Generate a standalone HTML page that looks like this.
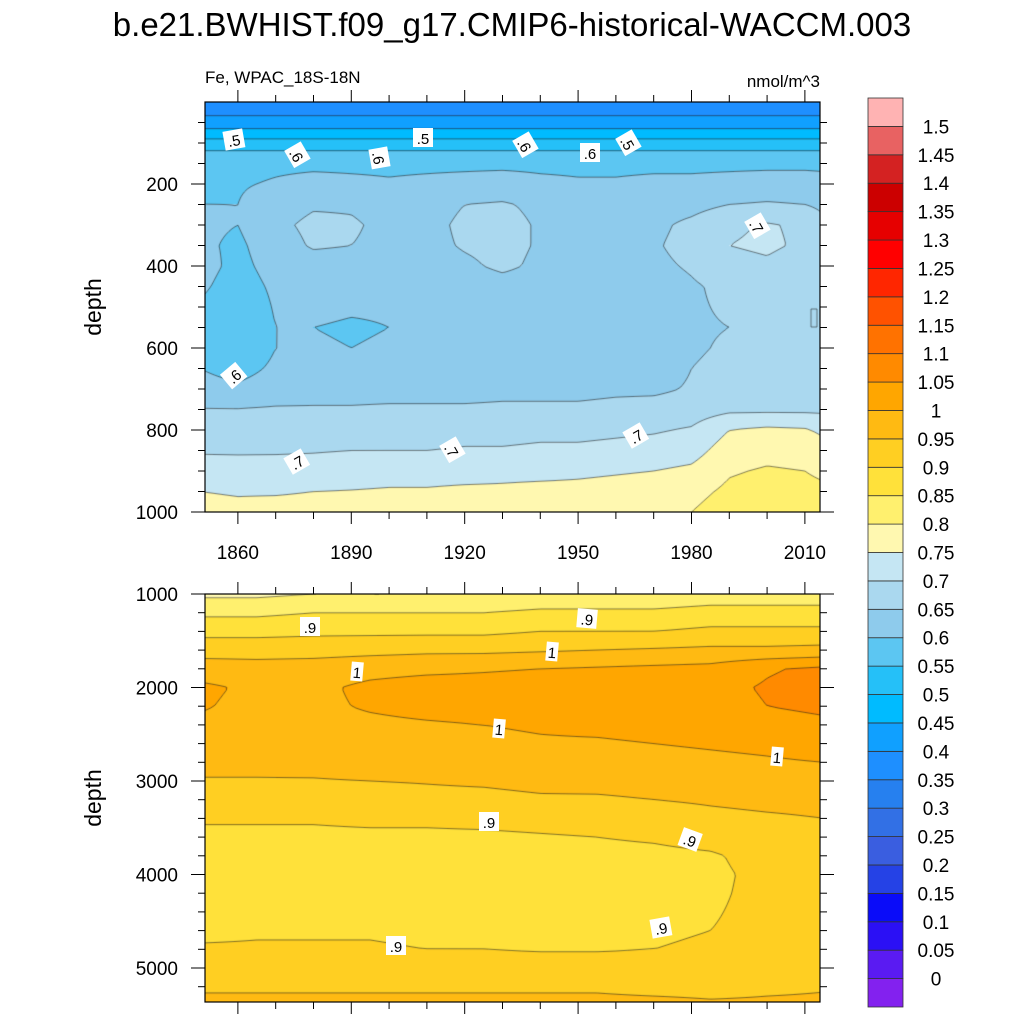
<!DOCTYPE html>
<html><head><meta charset="utf-8">
<style>
html,body{margin:0;padding:0;background:#fff;}
#root{position:relative;width:1024px;height:1024px;overflow:hidden;font-family:"Liberation Sans",sans-serif;}
canvas{position:absolute;}
svg{position:absolute;left:0;top:0;}
</style></head><body>
<div id="root">
<canvas id="topc" width="615" height="410" style="left:205px;top:102px"></canvas>
<canvas id="botc" width="615" height="408" style="left:205px;top:594px"></canvas>
<svg id="ov" width="1024" height="1024"></svg>
</div>
<script>
// ---------- data ----------
const topYears=[1850,1860,1870,1880,1890,1900,1910,1920,1930,1940,1950,1960,1970,1980,1990,2000,2010,2015];
const topDepths=[0,25,50,75,100,125,150,200,250,300,350,400,450,500,550,600,650,700,750,800,850,900,950,1000];
const topVals=[
[.37,.37,.37,.37,.37,.37,.37,.37,.37,.37,.37,.37,.37,.37,.37,.37,.37,.37],
[.39,.39,.39,.39,.39,.39,.39,.39,.39,.39,.39,.39,.39,.39,.39,.39,.39,.39],
[.42,.42,.42,.42,.42,.42,.42,.42,.42,.42,.42,.42,.42,.42,.42,.42,.42,.42],
[.47,.47,.47,.47,.47,.47,.47,.47,.47,.47,.47,.47,.47,.47,.47,.47,.47,.47],
[.52,.52,.52,.52,.52,.52,.52,.52,.52,.52,.52,.52,.52,.52,.52,.52,.52,.52],
[.56,.56,.56,.56,.56,.56,.56,.56,.56,.56,.56,.56,.56,.56,.56,.56,.56,.56],
[.585,.585,.59,.59,.59,.59,.59,.59,.59,.59,.59,.59,.59,.59,.59,.59,.59,.59],
[.598,.595,.605,.615,.61,.605,.61,.615,.62,.61,.605,.605,.61,.61,.615,.62,.62,.615],
[.60,.60,.63,.645,.645,.635,.63,.65,.655,.64,.635,.63,.63,.635,.65,.655,.65,.64],
[.61,.60,.64,.66,.655,.64,.635,.66,.665,.645,.635,.64,.64,.66,.69,.705,.69,.66],
[.61,.59,.63,.655,.65,.64,.635,.655,.665,.645,.635,.64,.645,.665,.70,.71,.69,.665],
[.62,.585,.62,.63,.63,.625,.625,.64,.66,.64,.63,.635,.64,.655,.68,.69,.67,.655],
[.61,.575,.61,.62,.62,.615,.615,.62,.63,.625,.62,.625,.63,.645,.66,.665,.655,.65],
[.595,.56,.605,.61,.605,.605,.605,.605,.61,.61,.605,.61,.61,.645,.655,.655,.65,.65],
[.59,.55,.60,.60,.595,.60,.60,.60,.60,.60,.60,.605,.61,.645,.65,.65,.65,.65],
[.595,.555,.60,.605,.60,.605,.605,.605,.605,.605,.605,.61,.615,.645,.655,.655,.655,.65],
[.60,.58,.61,.615,.615,.615,.615,.615,.62,.62,.62,.62,.625,.65,.66,.66,.66,.655],
[.62,.61,.625,.63,.63,.63,.63,.63,.635,.635,.635,.64,.64,.655,.665,.665,.665,.665],
[.652,.652,.655,.655,.655,.658,.658,.658,.66,.66,.66,.665,.67,.675,.69,.69,.69,.69],
[.67,.67,.672,.672,.675,.675,.675,.68,.68,.685,.685,.69,.695,.705,.75,.76,.755,.74],
[.695,.695,.695,.697,.70,.70,.70,.705,.705,.71,.71,.715,.72,.73,.775,.785,.78,.77],
[.722,.718,.72,.72,.725,.73,.73,.73,.735,.735,.74,.745,.75,.76,.795,.805,.80,.79],
[.75,.745,.745,.75,.752,.755,.755,.76,.76,.765,.765,.77,.775,.785,.81,.82,.815,.81],
[.77,.765,.77,.77,.775,.78,.78,.785,.785,.79,.79,.79,.795,.80,.825,.835,.83,.825]];
const botYears=[1850,1865,1880,1895,1910,1925,1940,1955,1970,1985,2000,2015];
const botDepths=[1000,1200,1400,1600,1800,2000,2200,2400,2600,2800,3000,3200,3400,3600,3800,4000,4200,4400,4600,4800,5000,5200,5400];
const botVals=[
[.79,.79,.80,.80,.80,.80,.81,.81,.81,.82,.82,.82],
[.84,.84,.85,.85,.85,.85,.86,.86,.86,.87,.87,.87],
[.885,.885,.89,.89,.89,.89,.90,.90,.90,.91,.91,.91],
[.93,.93,.93,.935,.94,.94,.945,.95,.955,.96,.96,.965],
[.975,.97,.975,.985,.99,.995,1.0,1.005,1.01,1.015,1.045,1.06],
[1.01,.99,.99,1.01,1.02,1.02,1.025,1.025,1.03,1.035,1.055,1.07],
[1.005,.985,.99,1.005,1.015,1.02,1.02,1.025,1.025,1.03,1.05,1.06],
[.99,.98,.985,.99,.995,1.0,1.005,1.01,1.015,1.02,1.03,1.04],
[.975,.97,.975,.98,.985,.99,.995,.995,1.0,1.005,1.01,1.02],
[.958,.958,.96,.965,.97,.975,.98,.98,.985,.99,.995,1.0],
[.948,.948,.948,.95,.952,.955,.96,.962,.965,.97,.975,.98],
[.93,.93,.93,.935,.94,.94,.945,.945,.95,.955,.96,.962],
[.905,.905,.905,.91,.91,.915,.92,.925,.93,.94,.945,.95],
[.89,.89,.89,.89,.89,.89,.895,.90,.905,.915,.93,.935],
[.885,.885,.885,.885,.885,.885,.887,.888,.89,.895,.915,.925],
[.88,.88,.88,.88,.88,.88,.88,.885,.888,.892,.91,.92],
[.88,.88,.88,.88,.88,.88,.88,.885,.888,.894,.91,.92],
[.885,.885,.885,.885,.88,.88,.88,.885,.89,.897,.91,.92],
[.89,.895,.895,.895,.89,.89,.885,.89,.895,.90,.91,.92],
[.905,.905,.905,.905,.90,.90,.897,.897,.90,.905,.915,.925],
[.92,.92,.925,.925,.925,.92,.92,.92,.92,.925,.93,.935],
[.945,.945,.945,.945,.945,.945,.945,.945,.94,.94,.945,.948],
[.96,.96,.96,.96,.96,.96,.96,.96,.96,.955,.955,.955]];
const colors=["#8321ef","#5a1bf2","#2b10f5","#0a0cf9","#2542e6","#3a5ee0","#3270e5","#2680ef","#1e8fff","#10a0ff","#00bbff","#25c0f8","#5cc6f2","#8ecbec","#aad8ef","#c5e6f3","#fff8b0","#fff06e","#ffe13a","#ffcf22","#ffba12","#ffa600","#ff8a00","#ff7200","#ff5200","#ff2600","#ff0000","#e60000","#cc0000","#d42222","#e86262","#ffb3b3"];
const cbLabels=["0","0.05","0.1","0.15","0.2","0.25","0.3","0.35","0.4","0.45","0.5","0.55","0.6","0.65","0.7","0.75","0.8","0.85","0.9","0.95","1","1.05","1.1","1.15","1.2","1.25","1.3","1.35","1.4","1.45","1.5"];
const xTickYears=[1860,1890,1920,1950,1980,2010];
const topYTicks=[200,400,600,800,1000];
const botYTicks=[1000,2000,3000,4000,5000];
const topLabels=[[".5",234,140,-10],[".6",297,155,60],[".6",379,158,80],[".5",423,138,0],[".6",525,145,60],[".6",590,153,0],[".5",628,143,60],[".7",757,226,60],[".6",234,376,-40],[".7",297,462,-30],[".7",452,450,60],[".7",636,436,-30]];
const botLabels=[[".9",310,627,0],[".9",587,619,5],["1",357,672,5],["1",552,652,5],["1",499,729,5],["1",777,757,5],[".9",489,822,0],[".9",690,840,20],[".9",396,946,0],[".9",661,928,-10]];

// ---------- scales ----------
const X0=205,YR0=1851.3,PXY=3.78;
const xs=yr=>X0+(yr-YR0)*PXY;
const yTop=d=>102+d*0.41;
const yBot=d=>594+(d-1000)*0.0935;

function idx(arr,v){let i=0;while(i<arr.length-2&&v>arr[i+1])i++;let t=(v-arr[i])/(arr[i+1]-arr[i]);t=Math.max(0,Math.min(1,t));return [i,t];}
function sample(years,depths,vals,yr,d){const [i,tx]=idx(years,yr);const [j,ty]=idx(depths,d);
 const a=vals[j][i],b=vals[j][i+1],c=vals[j+1][i],e=vals[j+1][i+1];
 return (a*(1-tx)+b*tx)*(1-ty)+(c*(1-tx)+e*tx)*ty;}
function bin(v){let k=Math.floor(v/0.05+1e-9)+1;return Math.max(0,Math.min(colors.length-1,k));}
function hex(c){return [parseInt(c.substr(1,2),16),parseInt(c.substr(3,2),16),parseInt(c.substr(5,2),16)];}
const rgb=colors.map(hex);

function drawPanel(id,years,depths,vals,yOf){
 const cv=document.getElementById(id),ctx=cv.getContext('2d'),W=cv.width,H=cv.height;
 const top=parseFloat(cv.style.top);
 const yrAt=px=>YR0+(px+0.5)/PXY;
 const dAt=py=>{let lo=-100,hi=6000;for(let k=0;k<40;k++){const m=(lo+hi)/2;if(yOf(m)-top<py)lo=m;else hi=m;}return lo;};
 const dRow=[];for(let y=0;y<=H;y++)dRow.push(dAt(y+0.5));
 const img=ctx.createImageData(W,H);
 for(let y=0;y<H;y++)for(let x=0;x<W;x++){const v=sample(years,depths,vals,yrAt(x),dRow[y]);const c=rgb[bin(v)];const o=(y*W+x)*4;img.data[o]=c[0];img.data[o+1]=c[1];img.data[o+2]=c[2];img.data[o+3]=255;}
 ctx.putImageData(img,0,0);
 const s=3,nx=Math.ceil(W/s)+1,ny=Math.ceil(H/s)+1,g=[];
 for(let j=0;j<ny;j++){const r=[];const py=Math.min(H,j*s);const d=dAt(py);for(let i=0;i<nx;i++){r.push(sample(years,depths,vals,YR0+Math.min(W,i*s)/PXY,d));}g.push(r);}
 ctx.strokeStyle="rgba(30,30,30,0.8)";ctx.lineWidth=0.7;ctx.beginPath();
 for(let L=1;L<=30;L++){const lv=L*0.05;
  for(let j=0;j<ny-1;j++)for(let i=0;i<nx-1;i++){
   const v=[g[j][i],g[j][i+1],g[j+1][i+1],g[j+1][i]];
   const p=[[i*s,j*s],[(i+1)*s,j*s],[(i+1)*s,(j+1)*s],[i*s,(j+1)*s]];
   const pts=[];
   for(let e=0;e<4;e++){const a=v[e],b=v[(e+1)%4];if((a<lv)!==(b<lv)){const t=(lv-a)/(b-a);const A=p[e],B=p[(e+1)%4];pts.push([A[0]+(B[0]-A[0])*t,A[1]+(B[1]-A[1])*t]);}}
   for(let k=0;k+1<pts.length;k+=2){ctx.moveTo(pts[k][0],pts[k][1]);ctx.lineTo(pts[k+1][0],pts[k+1][1]);}
  }}
 ctx.stroke();
}
drawPanel('topc',topYears,topDepths,topVals,yTop);
drawPanel('botc',botYears,botDepths,botVals,yBot);

// ---------- overlay ----------
const NS="http://www.w3.org/2000/svg",ov=document.getElementById('ov');
function el(tag,attrs,parent){const e=document.createElementNS(NS,tag);for(const k in attrs)e.setAttribute(k,attrs[k]);(parent||ov).appendChild(e);return e;}
function txt(str,attrs,name){const t=el('text',attrs);t.textContent=str;
 
 return t;}

const panels=[{t:102,b:512,yOf:yTop,maj:topYTicks,minStep:50,dmin:0,dmax:1000,xlab:true,name:'upper'},
              {t:594,b:1002,yOf:yBot,maj:botYTicks,minStep:200,dmin:1000,dmax:5360,xlab:false,name:'lower'}];
panels.forEach(P=>{
 const fr=el('rect',{x:205,y:P.t,width:615,height:P.b-P.t,fill:'none',stroke:'#000','stroke-width':1.2});
 
 
 for(let yr=1860;yr<=2010;yr+=10){const x=xs(yr);const major=(yr-1860)%30===0;const len=major?12:7;
  el('line',{x1:x,y1:P.t,x2:x,y2:P.t-len,stroke:'#000','stroke-width':1});
  el('line',{x1:x,y1:P.b,x2:x,y2:P.b+len,stroke:'#000','stroke-width':1});}
 for(let d=Math.ceil(P.dmin/P.minStep)*P.minStep;d<=P.dmax;d+=P.minStep){if(d===P.dmin&&P.dmin===0)continue;const y=P.yOf(d);if(y<P.t-0.5||y>P.b+0.5)continue;
  const major=P.maj.indexOf(d)>=0;const len=major?14:7;
  el('line',{x1:205,y1:y,x2:205-len,y2:y,stroke:'#000','stroke-width':1});
  el('line',{x1:820,y1:y,x2:820+len,y2:y,stroke:'#000','stroke-width':1});}
 P.maj.forEach(d=>{txt(String(d),{x:178,y:P.yOf(d)+7,'font-size':19,'text-anchor':'end'},P.name+'-y-tick-'+d);});
 if(P.xlab)xTickYears.forEach(yr=>{txt(String(yr),{x:xs(yr),y:559,'font-size':19,'text-anchor':'middle'},'x-tick-'+yr);});
});
txt("depth",{x:0,y:0,'font-size':23,'text-anchor':'middle',transform:'translate(101,307) rotate(-90)'},'upper-y-axis-title');
txt("depth",{x:0,y:0,'font-size':23,'text-anchor':'middle',transform:'translate(101,798) rotate(-90)'},'lower-y-axis-title');
txt("b.e21.BWHIST.f09_g17.CMIP6-historical-WACCM.003",{x:512,y:36,'font-size':33,'text-anchor':'middle'},'main-title');
txt("Fe, WPAC_18S-18N",{x:205,y:83,'font-size':17},'variable-subtitle');
txt("nmol/m^3",{x:820,y:87,'font-size':17,'text-anchor':'end'},'units-label');

function contourLabels(list,pre){list.forEach((L,i)=>{const g=el('g',{transform:`translate(${L[1]},${L[2]}) rotate(${L[3]})`});
 
 
 const w=L[0].length*8+4;el('rect',{x:-w/2,y:-10,width:w,height:19,fill:'#fff'},g);
 const t=el('text',{x:0,y:6,'font-size':15,'text-anchor':'middle'},g);t.textContent=L[0];});}
contourLabels(topLabels,'upper');contourLabels(botLabels,'lower');

// colorbar
const CB_X=868,CB_T=98,CB_H=909,boxH=CB_H/colors.length;
colors.forEach((c,k)=>{const y=CB_T+CB_H-(k+1)*boxH;const r=el('rect',{x:CB_X,y:y,width:35,height:boxH,fill:c,stroke:'#333','stroke-width':0.8});
 
 });
cbLabels.forEach((s,k)=>{const y=CB_T+CB_H-(k+1)*boxH;txt(s,{x:936,y:y+7,'font-size':19,'text-anchor':'middle'},'colorbar-label-'+s);});
</script>
</body></html>
